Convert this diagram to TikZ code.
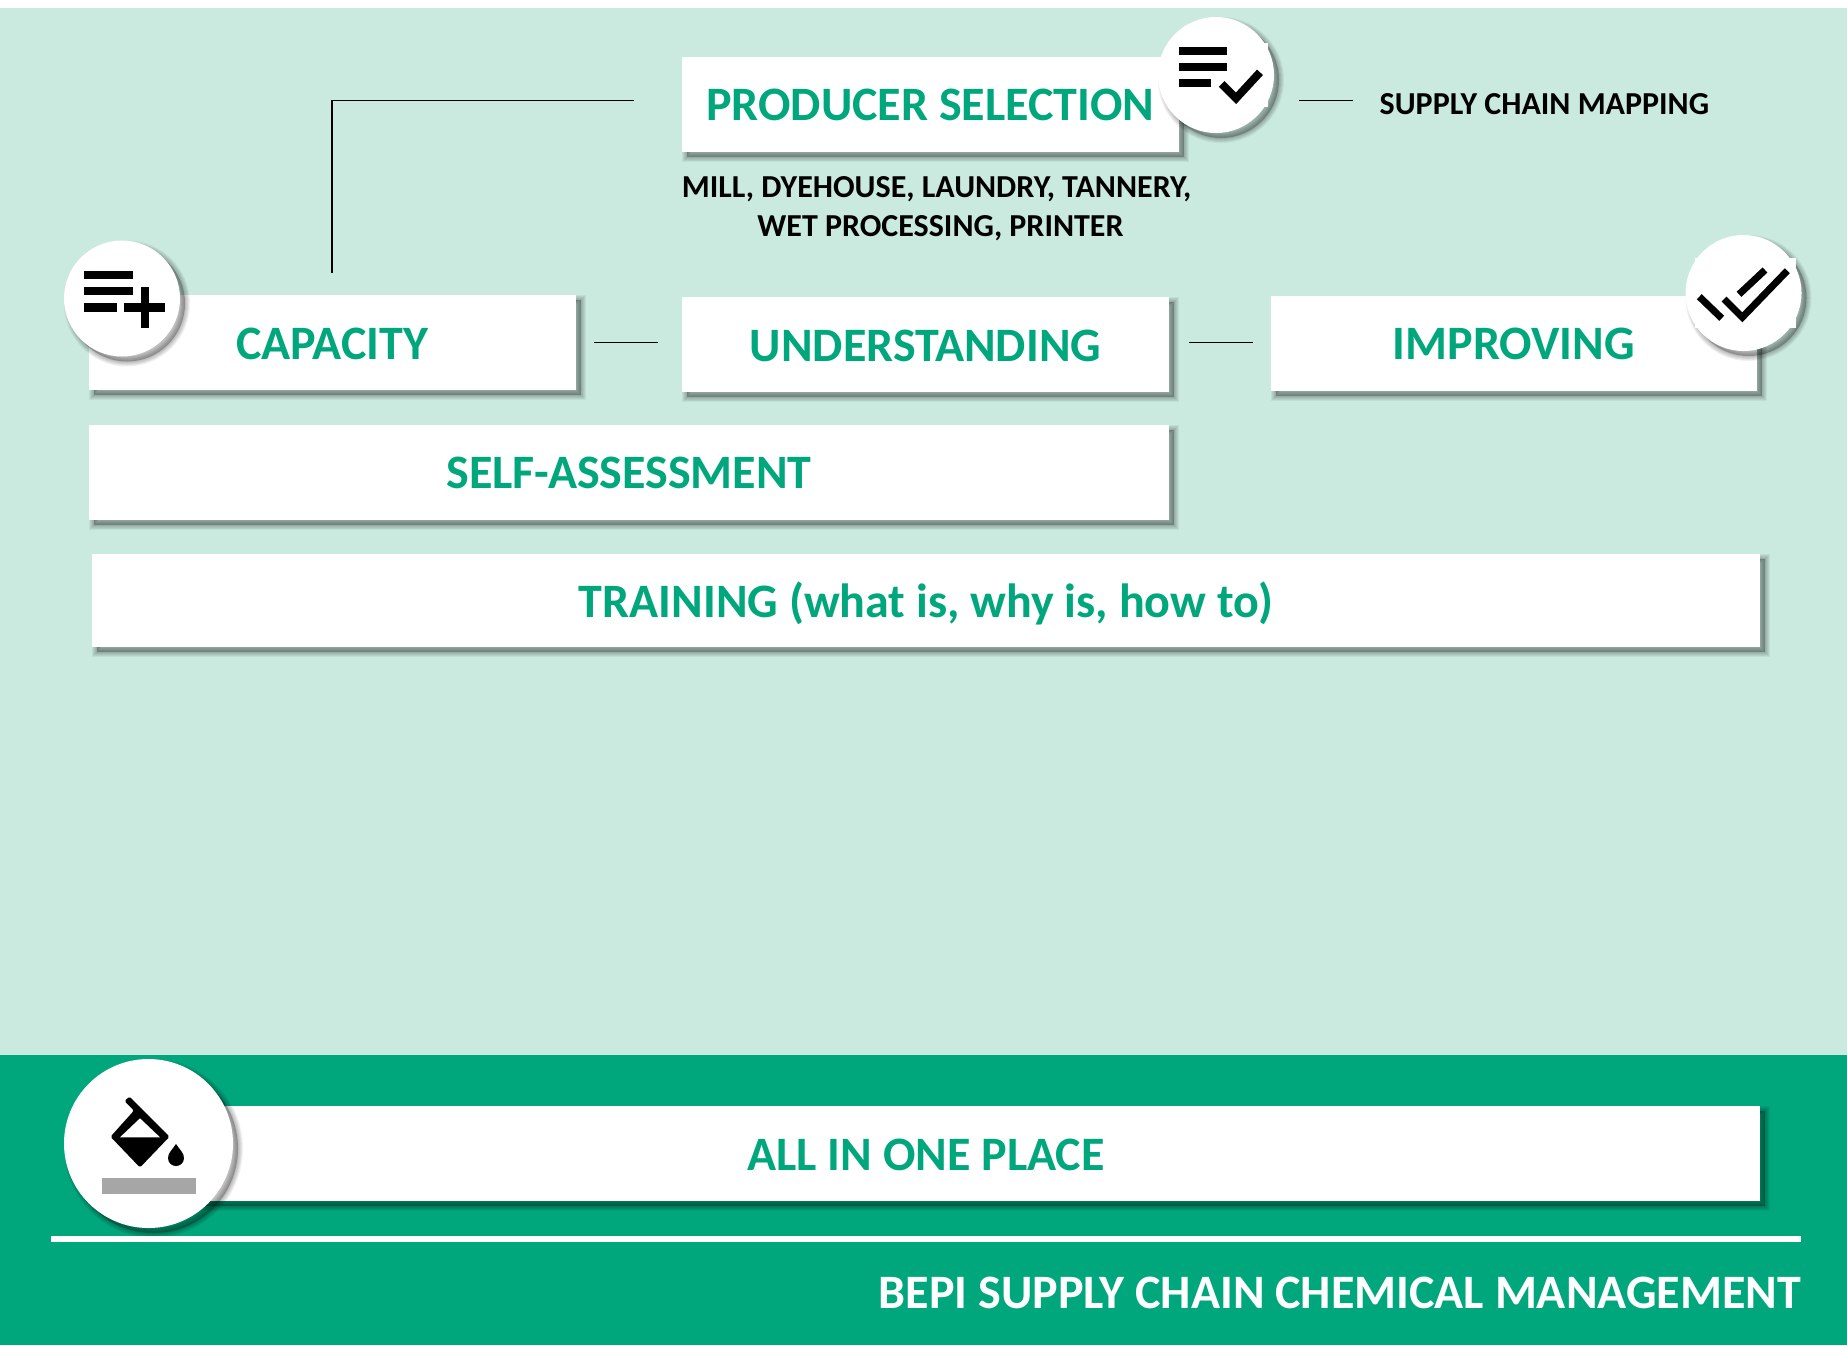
\documentclass[tikz,border=0pt]{standalone}
\usepackage{fontspec}
\setmainfont{Carlito}[BoldFont={Carlito Bold}]
\usetikzlibrary{shadows,calc}
\definecolor{bepigreen}{HTML}{00A77D}
\definecolor{bepilight}{HTML}{CBEADF}
\definecolor{bepigrey}{HTML}{A6A6A6}
\tikzset{
  shadowlayer/.style={general shadow={shadow xshift=5pt,shadow yshift=-5pt,draw=black,fill=black,draw opacity=.055,fill opacity=.055,line width=#1}},
  softshadow/.style={shadowlayer=10pt,shadowlayer=8pt,shadowlayer=6pt,shadowlayer=4pt,shadowlayer=2pt},
  whitebox/.style={rectangle,fill=white,inner sep=0pt,softshadow,text=bepigreen,
    font=\fontsize{48}{48}\selectfont\bfseries,text height=33pt,text depth=0pt},
  iconcircle/.style={circle,fill=white,inner sep=0pt,softshadow},
  smalltext/.style={inner sep=0pt,text=black,font=\fontsize{32}{39}\selectfont\bfseries},
  conn/.style={draw=black,line width=1.2pt},
  iconbar/.style={fill=black},
  iconstroke/.style={draw=black,line width=8pt,line join=miter},
}
\begin{document}
\begin{tikzpicture}[x=1pt,y=-1pt]
\useasboundingbox (0,0) rectangle (1847,1345);
\fill[white] (0,0) rectangle (1847,1345);
\fill[bepilight] (0,8) rectangle (1847,1056);
\fill[bepigreen] (0,1055) rectangle (1847,1345);

% boxes
\node[whitebox,text height=31pt,minimum width=497pt,minimum height=95pt] (producer) at (930.5,104.5) {PRODUCER SELECTION};
\node[whitebox,minimum width=486.5pt,minimum height=95pt] (capacity) at (332.25,342.5) {CAPACITY};
\node[whitebox,minimum width=487pt,minimum height=95pt] (understanding) at (925.5,344.5) {UNDERSTANDING};
\node[whitebox,text height=31pt,minimum width=486.5pt,minimum height=95pt] (improving) at (1513.75,343.5) {IMPROVING};
\node[whitebox,minimum width=1080pt,minimum height=95pt] (self) at (629,472) {SELF-ASSESSMENT};
\node[whitebox,minimum width=1668pt,minimum height=93pt] (training) at (926,600.5) {TRAINING (what is, why is, how to)};
\node[whitebox,text height=34pt,minimum width=1668pt,minimum height=95pt] (allone) at (926,1153.5) {ALL IN ONE PLACE};

% texts
\node[smalltext,align=center] (mill) at (936.5,209) {MILL, DYEHOUSE, LAUNDRY, TANNERY,\\\hspace*{8pt}WET PROCESSING, PRINTER};
\node[smalltext,text height=21pt,text depth=0pt,anchor=west] (supply) at (1379.5,103.5) {SUPPLY CHAIN MAPPING};
\node[inner sep=0pt,text=white,font=\fontsize{48}{48}\selectfont\bfseries,text height=31pt,text depth=0pt,anchor=east] (title) at (1801,1293) {BEPI SUPPLY CHAIN CHEMICAL MANAGEMENT};

% circles
\node[iconcircle,minimum size=116pt] (ccap) at (122,298.5) {};
\node[iconcircle,minimum size=116pt] (cprod) at (1216,75) {};
\node[iconcircle,minimum size=116pt] (cimp) at (1743.5,293) {};
\node[iconcircle,minimum size=169pt] (cpaint) at (148.5,1143.5) {};
\fill[white] (1695,258) rectangle (1796,328);
\fill[white] (1190,43) rectangle (1267.7,107);

% connectors
\coordinate (corner) at (332,100.5);
\draw[conn,shorten <=48pt,shorten >=22pt] (producer.west |- corner) -- (corner) -- (corner |- capacity.north);
\draw[conn,shorten <=18.5pt,shorten >=23.5pt] (capacity.east) -- (capacity.east -| understanding.west);
\draw[conn,shorten <=20pt,shorten >=17.5pt] (understanding.east |- capacity.east) -- (improving.west |- capacity.east);
\draw[conn,shorten <=25pt,shorten >=27pt] (cprod.east |- corner) -- (supply.west |- corner);

% white rule
\fill[white] (51,1236) rectangle (1801,1242);

% playlist add icon
\fill[iconbar] (83.5,271) rectangle (132.6,279);
\fill[iconbar] (83.5,287) rectangle (132.6,295);
\fill[iconbar] (83.5,303) rectangle (117,312);
\fill[iconbar] (124,303) rectangle (165,312);
\fill[iconbar] (140.6,287) rectangle (148.7,328);

% playlist check icon
\fill[iconbar] (1179,46.7) rectangle (1227.3,54.7);
\fill[iconbar] (1179,62.7) rectangle (1227.3,71);
\fill[iconbar] (1179,79) rectangle (1211.3,87);
\draw[iconstroke] (1221.7,84) -- (1236,98.3) -- (1260,72.3);

% done all icon
\draw[iconstroke,line width=7pt] (1724,299) -- (1742.3,317.3) -- (1787.3,270.7);
\draw[iconstroke,line width=7pt] (1739,294.3) -- (1765,270);
\draw[iconstroke,line width=7pt] (1699.3,296.7) -- (1721.7,318.3);

% paint icon
\fill[black,rounded corners=1.5pt] (110.5,1136.7) -- (140,1167.5) -- (169.5,1136.7) -- (129.5,1096.5) -- (124.5,1101) -- (134,1110.5) -- cycle;
\fill[white] (120,1137.3) -- (140,1118.3) -- (160,1137.3) -- cycle;
\fill[black] (176,1144) .. controls (172,1150) and (168,1153) .. (168,1158) .. controls (168,1163) and (172,1166) .. (176,1166) .. controls (180,1166) and (184,1163) .. (184,1158) .. controls (184,1153) and (180,1150) .. (176,1144) -- cycle;
\fill[bepigrey] (102,1177.7) rectangle (195.7,1193.7);
\end{tikzpicture}
\end{document}
